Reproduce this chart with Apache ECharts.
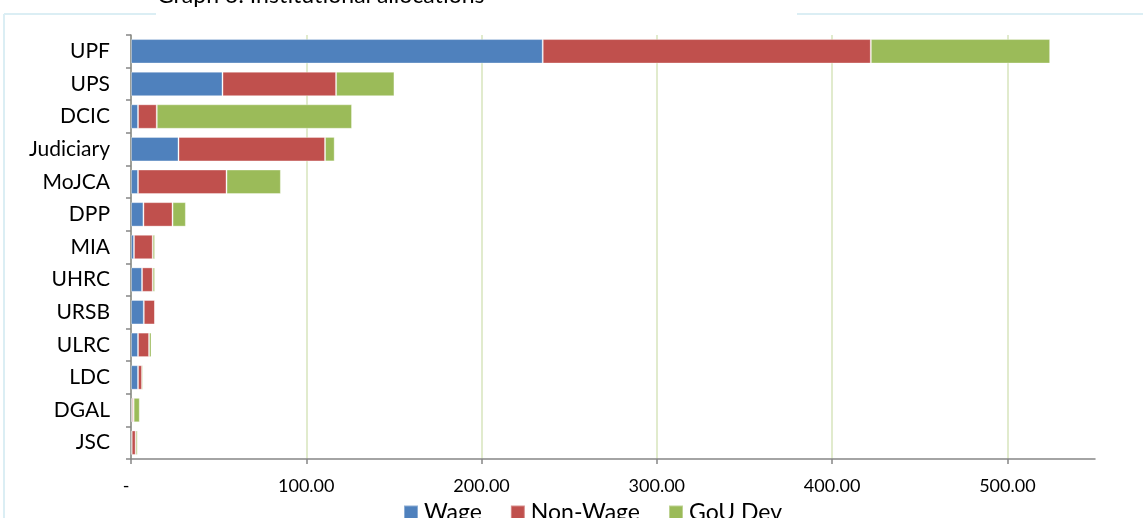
<!DOCTYPE html>
<html>
<head>
<meta charset="utf-8">
<script src="https://cdn.jsdelivr.net/npm/echarts@6/dist/echarts.min.js"></script>
<style>
  html, body { margin: 0; padding: 0; background: #fff; }
  #chart { width: 1143px; height: 518px; }
</style>
</head>
<body>
<div id="chart"></div>
<script>
// Institutional allocations (UGX bn), stacked by funding line
const institutions = ['UPF', 'UPS', 'DCIC', 'Judiciary', 'MoJCA', 'DPP', 'MIA', 'UHRC', 'URSB', 'ULRC', 'LDC', 'DGAL', 'JSC'];
const wage    = [234.9, 52.2, 4.0, 27.1, 4.0, 7.1, 1.7, 6.3, 7.3, 4.0, 4.0, 0.6, 0.4];
const nonWage = [187.2, 64.8, 10.7, 83.6, 50.5, 16.6, 10.7, 6.1, 6.4, 6.3, 2.3, 0.9, 2.3];
const gouDev  = [102.3, 33.3, 111.4, 5.5, 31.0, 7.6, 1.3, 1.3, 0.0, 1.4, 0.8, 3.5, 1.1];
const xTicks  = [0, 100, 200, 300, 400, 500];
const seriesNames = ['Wage', 'Non-Wage', 'GoU Dev'];
const titleText = 'Graph 6: Institutional allocations';

const FONT = 'Lato, "Open Sans", sans-serif';
const colors = ['#4f81bd', '#c0504d', '#9bbb59'];
const gridColor = '#d7e4bd';
const frameColor = '#dbeef4';

const chart = echarts.init(document.getElementById('chart'), null, { renderer: 'canvas' });

function barSeries(name, data, color) {
  return {
    name: name,
    type: 'bar',
    stack: 'total',
    data: data,
    barCategoryGap: '25%',
    itemStyle: { color: color, borderColor: 'rgba(255,255,255,0.35)', borderWidth: 1 },
    emphasis: { disabled: true }
  };
}

chart.setOption({
  animation: false,
  backgroundColor: '#fff',
  textStyle: { fontFamily: FONT },
  grid: { left: 131, right: 48, top: 35, bottom: 59, containLabel: false },
  legend: {
    data: seriesNames,
    left: 398,
    top: 496,
    itemWidth: 14,
    itemHeight: 14,
    itemGap: 28,
    icon: 'rect',
    textStyle: { fontFamily: FONT, fontSize: 23, color: '#000', padding: [2, 0, 0, 1] }
  },
  xAxis: {
    type: 'value',
    min: 0,
    max: 550,
    interval: 100,
    axisLine: { show: true, lineStyle: { color: '#868686', width: 1.5 } },
    axisTick: { show: true, length: 5, customValues: xTicks, lineStyle: { color: '#868686', width: 1.5 } },
    axisLabel: {
      customValues: xTicks,
      fontFamily: FONT,
      fontSize: 18,
      color: '#000',
      margin: 18,
      formatter: function (v) { return v === 0 ? '{dash|-}' : v.toFixed(2); },
      rich: { dash: { fontFamily: FONT, fontSize: 18, color: '#000', padding: [0, 10, 0, 0] } }
    },
    splitLine: {
      show: true,
      lineStyle: { color: [gridColor, gridColor, gridColor, gridColor, gridColor, gridColor, 'rgba(0,0,0,0)'], width: 1.5 }
    }
  },
  yAxis: {
    type: 'category',
    data: institutions,
    inverse: true,
    axisLine: { show: true, lineStyle: { color: '#868686', width: 1.5 } },
    axisTick: { show: true, length: 5, lineStyle: { color: '#868686', width: 1.5 } },
    axisLabel: { fontFamily: FONT, fontSize: 21, color: '#000', margin: 21 },
    splitLine: { show: false }
  },
  series: [
    barSeries(seriesNames[0], wage, colors[0]),
    barSeries(seriesNames[1], nonWage, colors[1]),
    barSeries(seriesNames[2], gouDev, colors[2])
  ],
  graphic: [
    // outer frame (top edge broken by the title)
    { type: 'line', shape: { x1: 4, y1: 14, x2: 156, y2: 14 }, style: { stroke: frameColor, lineWidth: 2 }, silent: true },
    { type: 'line', shape: { x1: 797, y1: 14, x2: 1143, y2: 14 }, style: { stroke: frameColor, lineWidth: 2 }, silent: true },
    { type: 'line', shape: { x1: 4, y1: 14, x2: 4, y2: 518 }, style: { stroke: frameColor, lineWidth: 2 }, silent: true },
    {
      type: 'text', left: 157, top: -16, silent: true,
      style: { text: titleText, fontFamily: FONT, fontSize: 23, fill: '#000' }
    }
  ]
});
</script>
</body>
</html>
